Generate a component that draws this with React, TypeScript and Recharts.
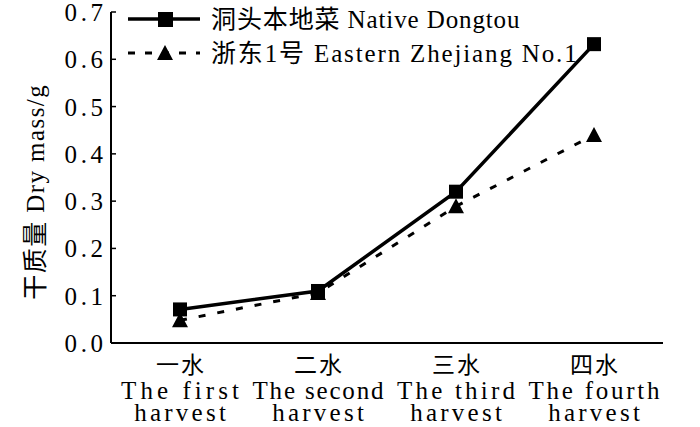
import React from "react";
import { LineChart, Line, XAxis, YAxis } from "recharts";

// harvest categories (Chinese + English, two lines)
const harvestZh = ["一水", "二水", "三水", "四水"];
const harvestEn1 = ["The first", "The second", "The third", "The fourth"];
const harvestEn2 = ["harvest", "harvest", "harvest", "harvest"];
const harvestPos = [0.5, 1.5, 2.5, 3.5];
const bandEdges = [1, 2, 3];

// dry mass (g)
const nativeDongtou = [0.071, 0.11, 0.32, 0.632];
const easternZhejiang = [0.048, 0.106, 0.289, 0.44];

const yTicks = [0, 0.1, 0.2, 0.3, 0.4, 0.5, 0.6, 0.7];

const seriesNames = ["洞头本地菜 Native Dongtou", "浙东1号 Eastern Zhejiang No.1"];

const FONT = "'Liberation Serif', 'Noto Sans CJK SC', serif";

const data = harvestPos.map((x, i) => ({
    x,
    native: nativeDongtou[i],
    eastern: easternZhejiang[i],
}));

// the original uses a monospaced song font: every latin char the same advance
const monoWidth = (s: string, lw: number, cw: number) =>
    Array.from(s).reduce((w, ch) => w + (/[\u3000-\u9fff]/.test(ch) ? cw : lw), 0);

const MonoText = ({ s, fs, lw, cw = fs, ...rest }: any) => (
    <text
        fontFamily={FONT}
        fontSize={fs}
        fill="#000"
        textLength={monoWidth(s, lw, cw)}
        lengthAdjust="spacing"
        {...rest}
    >
        {s}
    </text>
);

const SquareDot = (props: any) => {
    const { cx, cy } = props;
    if (cx == null || cy == null) return null;
    return <rect x={cx - 7} y={cy - 7} width={14} height={14} fill="#000" />;
};

const TriangleDot = (props: any) => {
    const { cx, cy } = props;
    if (cx == null || cy == null) return null;
    return <polygon points={`${cx},${cy - 8} ${cx - 8},${cy + 7} ${cx + 8},${cy + 7}`} fill="#000" />;
};

const HarvestTick = ({ x, y, payload }: any) => {
    const i = harvestPos.indexOf(payload.value);
    if (i < 0) return null;
    return (
        <g>
            <MonoText s={harvestZh[i]} fs={23} lw={13} cw={24} x={x} y={y + 30} textAnchor="middle" />
            <MonoText s={harvestEn1[i]} fs={25} lw={13.1} x={x} y={y + 56} textAnchor="middle" />
            <MonoText s={harvestEn2[i]} fs={25} lw={13.1} x={x} y={y + 78} textAnchor="middle" />
        </g>
    );
};

// small inward tick marks at category boundaries
const EdgeTick = ({ x, y }: any) => <line x1={x} x2={x} y1={y} y2={y - 5} stroke="#000" strokeWidth={1.5} />;

const ValueTick = ({ x, y, payload }: any) => (
    <g>
        <line x1={x} x2={x + 5} y1={y} y2={y} stroke="#000" strokeWidth={1.5} />
        <MonoText s={Number(payload.value).toFixed(1)} fs={25} lw={12.8} x={x - 8} y={y + 9} textAnchor="end" />
    </g>
);

const YTitle = ({ viewBox }: any) => {
    const cy = viewBox.y + viewBox.height / 2 + 15;
    return (
        <MonoText
            s="干质量 Dry mass/g"
            fs={25}
            lw={13.5}
            cw={22}
            x={44}
            y={cy}
            textAnchor="middle"
            transform={`rotate(-90 44 ${cy})`}
        />
    );
};

const LegendOverlay = () => (
    <svg width={700} height={80} style={{ position: "absolute", left: 0, top: 0, pointerEvents: "none" }}>
        <line x1={128} x2={200} y1={19} y2={19} stroke="#000" strokeWidth={3.5} />
        <rect x={158} y={12} width={15} height={15} fill="#000" />
        <MonoText s={seriesNames[0]} fs={25} lw={12.9} cw={23} x={211} y={28} />
        <line x1={128} x2={200} y1={53} y2={53} stroke="#000" strokeWidth={3} strokeDasharray="7 10" />
        <polygon points="165,45 157,60 173,60" fill="#000" />
        <MonoText s={seriesNames[1]} fs={25} lw={12.9} cw={23} x={211} y={62} />
    </svg>
);

export default function App() {
    return (
        <div style={{ position: "absolute", left: 0, top: 0, width: 700, height: 427, background: "#fff" }}>
            <LineChart width={700} height={427} data={data} margin={{ top: 12, right: 37, bottom: 0, left: 0 }}>
                <XAxis
                    xAxisId="edge"
                    type="number"
                    dataKey="x"
                    domain={[0, 4]}
                    ticks={bandEdges}
                    height={0}
                    axisLine={false}
                    tickLine={false}
                    tickSize={0}
                    tickMargin={0}
                    tick={<EdgeTick />}
                    interval={0}
                />
                <XAxis
                    xAxisId="lab"
                    type="number"
                    dataKey="x"
                    domain={[0, 4]}
                    ticks={harvestPos}
                    height={84}
                    axisLine={{ stroke: "#000", strokeWidth: 2 }}
                    tickLine={false}
                    tickSize={0}
                    tickMargin={0}
                    tick={<HarvestTick />}
                    interval={0}
                />
                <YAxis
                    type="number"
                    domain={[0, 0.7]}
                    ticks={yTicks}
                    width={111}
                    axisLine={{ stroke: "#000", strokeWidth: 2 }}
                    tickLine={false}
                    tickSize={0}
                    tickMargin={0}
                    tick={<ValueTick />}
                    interval={0}
                    label={<YTitle />}
                />
                <Line
                    xAxisId="lab"
                    dataKey="native"
                    name={seriesNames[0]}
                    stroke="#000"
                    strokeWidth={3.5}
                    dot={<SquareDot />}
                    isAnimationActive={false}
                />
                <Line
                    xAxisId="lab"
                    dataKey="eastern"
                    name={seriesNames[1]}
                    stroke="#000"
                    strokeWidth={3}
                    strokeDasharray="7 12"
                    dot={<TriangleDot />}
                    isAnimationActive={false}
                />
            </LineChart>
            <LegendOverlay />
        </div>
    );
}
